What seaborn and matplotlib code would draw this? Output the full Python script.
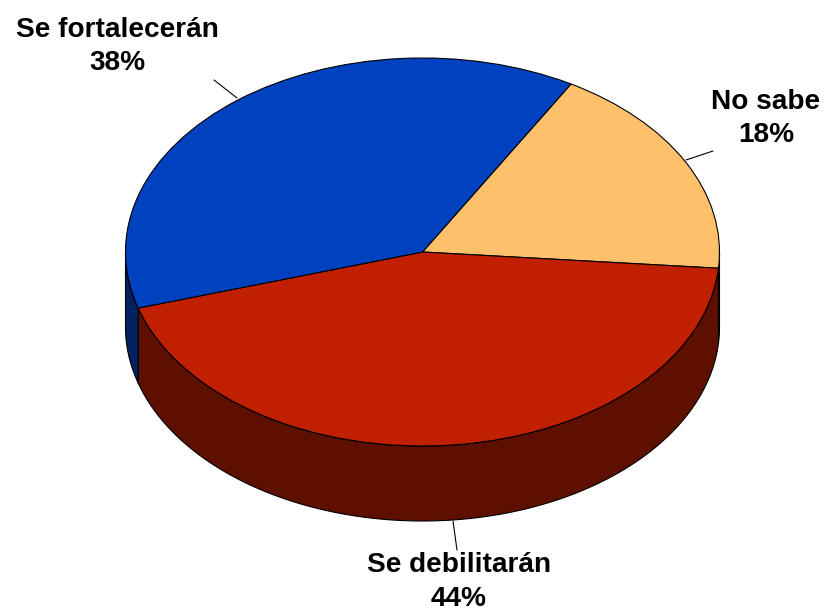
import numpy as np
import matplotlib
matplotlib.use("Agg")
import matplotlib.pyplot as plt
import seaborn as sns

categories = ["No sabe", "Se debilitarán", "Se fortalecerán"]
values = [18, 44, 38]
top_colors = ["#FFC06C", "#C02000", "#0041C0"]
side_colors = ["#5E3A10", "#5E1000", "#002060"]

sns.set_theme(style="white")
plt.rcParams["font.family"] = ["Liberation Sans", "DejaVu Sans"]

W, H = 825, 612
CX, CY, RX, RY, DEPTH = 422.5, 252, 297, 194, 75
START = 60.0

fig = plt.figure(figsize=(W / 100, H / 100), dpi=100, facecolor="white")
ax = fig.add_axes([0, 0, 1, 1])
depth = DEPTH / RY
LW = 0.8

# extruded side walls, from the same shares as the top
bounds = START - np.cumsum([0] + values) * 3.6
for i, col in enumerate(side_colors):
    hi, lo = bounds[i], bounds[i + 1]
    # visible wall = front half of the ellipse (180..360 deg, modulo)
    for shift in (0, -360, 360):
        a = max(lo + shift, -180)
        b = min(hi + shift, 0)
        if b > a:
            t = np.radians(np.linspace(a, b, 200))
            xs = np.cos(t)
            ys = np.sin(t)
            ax.fill(np.r_[xs, xs[::-1]], np.r_[ys, ys[::-1] - depth],
                    facecolor=col, edgecolor="black", linewidth=LW,
                    joinstyle="round", zorder=1)

wedges, _ = ax.pie(values, colors=top_colors, startangle=START, counterclock=False,
                   radius=1, wedgeprops=dict(edgecolor="black", linewidth=LW, zorder=2))
for w in wedges:
    w.set_zorder(2)

ax.set_aspect("auto")
ax.set_xlim(-CX / RX, (W - CX) / RX)
ax.set_ylim((CY - H) / RY, CY / RY)
ax.axis("off")


def px(x, y):
    return (x - CX) / RX, (CY - y) / RY


label_pos = [(766, 118.5), (459, 582), (117, 46.5)]
leaders = [((686, 160), (713, 151)), ((453, 521), (457, 550)), ((237, 98), (214, 80))]
for cat, val, pos, (p0, p1) in zip(categories, values, label_pos, leaders):
    a, b = px(*p0), px(*p1)
    ax.plot([a[0], b[0]], [a[1], b[1]], color="black", lw=0.8, zorder=3)
    ax.text(*px(*pos), f"{cat}\n{val}%", ha="center", va="center", fontsize=20.2,
            fontweight="bold", color="black", linespacing=1.36, zorder=4)

fig.savefig("out.png", dpi=100)
